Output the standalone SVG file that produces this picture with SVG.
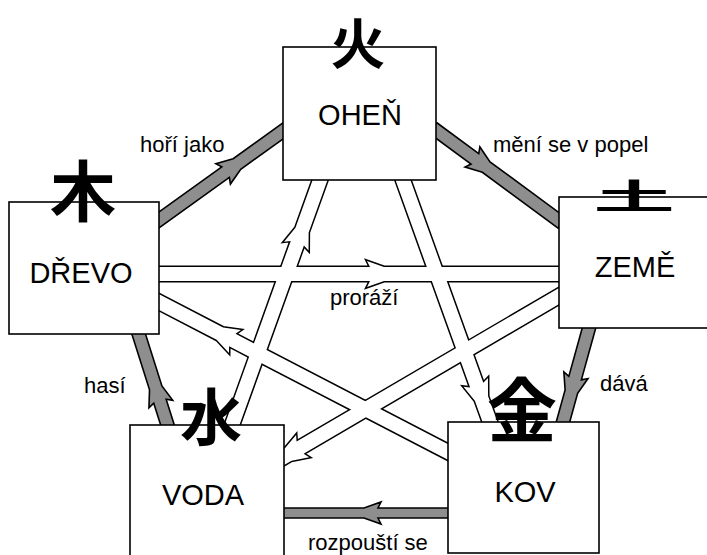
<svg xmlns="http://www.w3.org/2000/svg" width="707" height="555" viewBox="0 0 707 555">
<style>
.box{fill:#fff;stroke:#000;stroke-width:1.6}
.lbl{font-family:"Liberation Sans",Arial,sans-serif;font-size:29px;fill:#000;text-anchor:middle}
.txt{font-family:"Liberation Sans",Arial,sans-serif;font-size:22px;fill:#000}
.kanji{font-family:"Noto Sans CJK JP","Noto Sans CJK SC",sans-serif;font-weight:700;fill:#000;text-anchor:middle}
.sOut{fill:#000;stroke:#000;stroke-width:3;stroke-linejoin:miter}
.sFill{fill:#fff;stroke:none}
.gray{fill:#8e8e8e;stroke:#000;stroke-width:1.6;stroke-linejoin:miter}
</style>
<defs>
<polygon id="s1" points="0,-7 220,-7 217,-13 234,-7 420,-7 420,7 234,7 217,13 220,7 0,7"/>
<polygon id="s2" points="0,-7 208,-7 205,-13 222,-7 285,-7 285,7 222,7 205,13 208,7 0,7"/>
<polygon id="s3" points="0,-7 228,-7 225,-13 242,-7 282,-7 282,7 242,7 225,13 228,7 0,7"/>
<polygon id="s4" points="0,-7 258,-7 255,-13 272,-7 351,-7 351,7 272,7 255,13 258,7 0,7"/>
<polygon id="s5" points="0,-7 310,-7 307,-13 324,-7 344,-7 344,7 324,7 307,13 310,7 0,7"/>
</defs>
<g id="connectors">
  <g class="sOut">
    <use href="#s1" transform="translate(150,274)"/>
    <use href="#s2" transform="translate(227,439) rotate(-70.24)"/>
    <use href="#s3" transform="translate(399.6,170.6) rotate(70.23)"/>
    <use href="#s4" transform="translate(461.3,458.9) rotate(-152.57)"/>
    <use href="#s5" transform="translate(567.6,291) rotate(149.65)"/>
  </g>
  <g class="sFill">
    <use href="#s1" transform="translate(150,274)"/>
    <use href="#s2" transform="translate(227,439) rotate(-70.24)"/>
    <use href="#s3" transform="translate(399.6,170.6) rotate(70.23)"/>
    <use href="#s4" transform="translate(461.3,458.9) rotate(-152.57)"/>
    <use href="#s5" transform="translate(567.6,291) rotate(149.65)"/>
  </g>
  <g class="gray">
    <polygon transform="translate(154.9,222.9) rotate(-35.68)" points="0,-6.5 87,-6.5 84,-12.5 101,-6.5 164,-6.5 164,6.5 101,6.5 84,12.5 87,6.5 0,6.5"/>
    <polygon transform="translate(433,128) rotate(36.33)" points="0,-6.5 52,-6.5 49,-12.5 66,-6.5 160,-6.5 160,6.5 66,6.5 49,12.5 52,6.5 0,6.5"/>
    <polygon transform="translate(590.3,323.2) rotate(105.46)" points="0,-6.5 57,-6.5 54,-12.5 71,-6.5 108,-6.5 108,6.5 71,6.5 54,12.5 57,6.5 0,6.5"/>
    <polygon transform="translate(452,513) rotate(180)" points="0,-5 74,-5 71,-11 88,-5 172,-5 172,5 88,5 71,11 74,5 0,5"/>
    <polygon transform="translate(169,429.8) rotate(-107.57)" points="0,-6.5 30,-6.5 27,-12.5 44,-6.5 105,-6.5 105,6.5 44,6.5 27,12.5 30,6.5 0,6.5"/>
  </g>
</g>
<g id="ohen">
  <rect class="box" x="283" y="47" width="153" height="133"/>
  <text class="kanji" x="358" y="64" font-size="55">火</text>
  <text class="lbl" x="360" y="125">OHEŇ</text>
</g>
<g id="drevo">
  <rect class="box" x="9" y="202" width="150" height="132"/>
  <text class="kanji" x="83" y="216" font-size="66">木</text>
  <text class="lbl" x="81" y="283">DŘEVO</text>
</g>
<g id="zeme">
  <rect class="box" x="559" y="197" width="160" height="131"/>
  <text class="kanji" transform="translate(634,209) scale(1.45,0.6)" font-size="56" font-weight="500">土</text>
  <text class="lbl" x="635" y="277">ZEMĚ</text>
</g>
<g id="voda">
  <rect class="box" x="130" y="425" width="154" height="140"/>
  <text class="kanji" x="211" y="441" font-size="62">水</text>
  <text class="lbl" x="203" y="505">VODA</text>
</g>
<g id="kov">
  <rect class="box" x="448" y="422" width="151" height="131"/>
  <text class="kanji" x="522" y="437" font-size="70">金</text>
  <text class="lbl" x="525" y="502">KOV</text>
</g>
<g id="labels">
  <text class="txt" x="140" y="152">hoří jako</text>
  <text class="txt" x="493" y="152">mění se v popel</text>
  <text class="txt" x="330" y="305">proráží</text>
  <text class="txt" x="84" y="393">hasí</text>
  <text class="txt" x="600" y="391">dává</text>
  <text class="txt" x="308" y="550">rozpouští se</text>
</g>
</svg>
